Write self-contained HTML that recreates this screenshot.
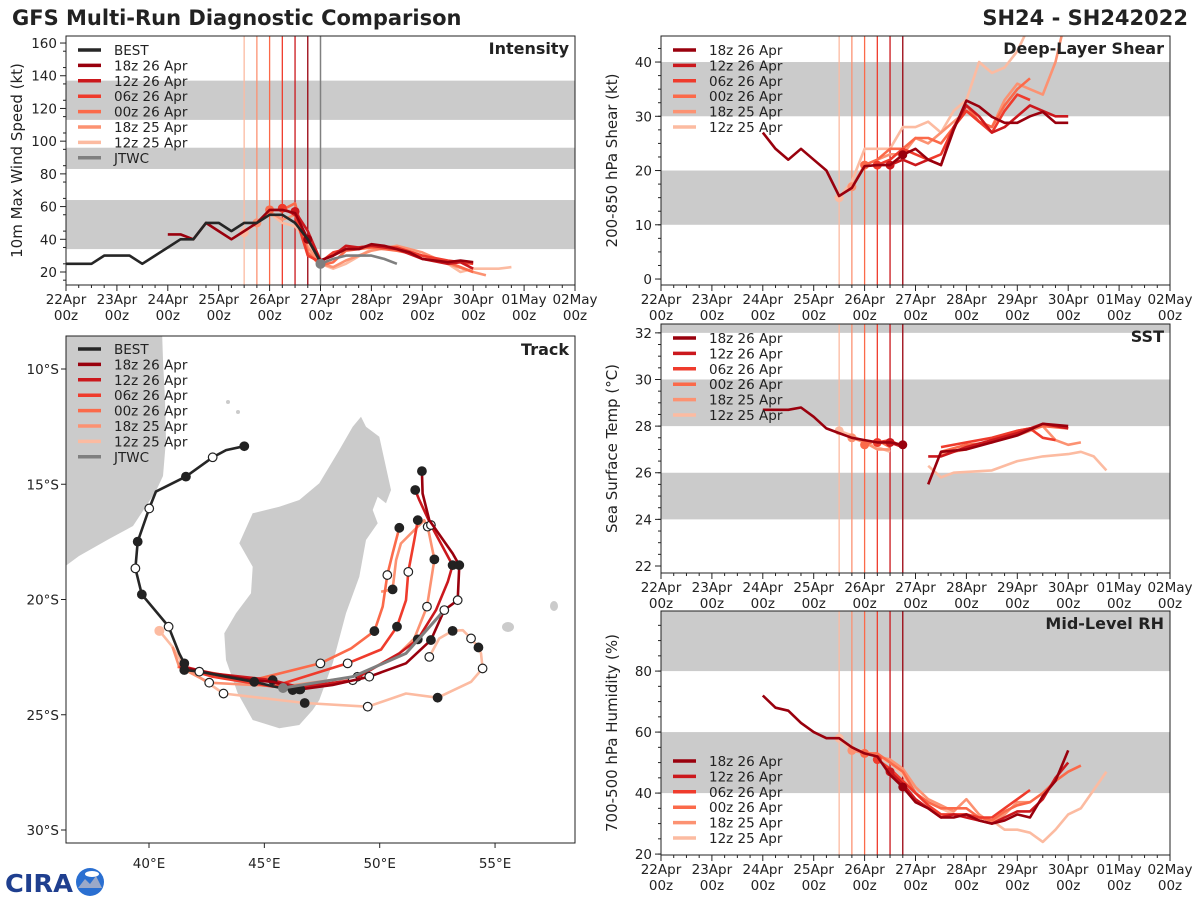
<!DOCTYPE html>
<html><head><meta charset="utf-8">
<style>
html,body{margin:0;padding:0;background:#fff;}
svg{display:block;font-family:"DejaVu Sans","Liberation Sans",sans-serif;}
</style></head>
<body>
<svg id="fig" width="1200" height="900" viewBox="0 0 1200 900" xmlns="http://www.w3.org/2000/svg">
<rect width="1200" height="900" fill="#fff"/>
<text x="12" y="25" font-size="21" font-weight="bold" fill="#222">GFS Multi-Run Diagnostic Comparison</text>
<text x="1188" y="25" font-size="21" font-weight="bold" fill="#222" text-anchor="end">SH24 - SH242022</text>
<g>
<text x="5" y="892" font-size="25" font-weight="bold" fill="#1f3f8f" textLength="68" lengthAdjust="spacingAndGlyphs">CIRA</text>
<circle cx="90" cy="882" r="14" fill="#2a6fd1"/>
<path d="M78,888 L85,879 L90,884 L96,876 L102,888 Z" fill="#9aa8c8"/>
<ellipse cx="92" cy="874" rx="7" ry="3" fill="#fff"/>
</g>
<g id="layer"></g>
</svg>
<script>
// ---------- data ----------
const runNames=['18z 26 Apr','12z 26 Apr','06z 26 Apr','00z 26 Apr','18z 25 Apr','12z 25 Apr'];
const runColors=['#99000d','#cb181d','#ef3b2c','#fb6a4a','#fc9272','#fcbba1'];
const runInit=[4.75,4.5,4.25,4.0,3.75,3.5];
const xTickLabels=['22Apr','23Apr','24Apr','25Apr','26Apr','27Apr','28Apr','29Apr','30Apr','01May','02May'];

const intBest=[[0,25],[0.5,25],[0.75,30],[1.25,30],[1.5,25],[1.75,30],[2,35],[2.25,40],[2.5,40],[2.75,50],[3,50],[3.25,45],[3.5,50],[3.75,50],[4,55],[4.25,55],[4.5,50],[4.75,40],[5,26]];
const intJtwc=[[5,25],[5.25,28],[5.5,30],[6,30],[6.25,28],[6.5,25]];
const intRun18z26=[[2,43],[2.25,43],[2.5,40],[2.75,50],[3,45],[3.25,40],[3.5,45],[3.75,50],[4,58],[4.25,58],[4.5,56],[4.75,40],[5,27],[5.25,30],[5.5,34],[5.75,34],[6,37],[6.25,36],[6.5,34],[6.75,32],[7,28],[7.25,27],[7.5,26],[7.75,27],[8,26]];
const intRun12z26=[[4.5,57],[4.75,45],[5,27],[5.25,30],[5.5,36],[5.75,35],[6,36],[6.5,34],[7,28],[7.5,25],[7.75,26],[8,22]];
const intRun06z26=[[4.25,59],[4.5,55],[4.75,30],[5,26],[5.25,32],[5.5,34],[6,36],[6.5,35],[7,30],[7.5,27],[8,25]];
const intRun00z26=[[4,58],[4.25,58],[4.5,62],[4.75,32],[5,24],[5.25,26],[5.5,33],[6,35],[6.5,33],[7,30],[7.5,26],[8,20]];
const intRun18z25=[[3.75,50],[4,57],[4.25,52],[4.5,55],[4.75,35],[5,25],[5.25,23],[5.5,27],[6,33],[6.5,36],[7,32],[7.5,25],[8,20],[8.25,18]];
const intRun12z25=[[3.5,44],[3.75,50],[4,56],[4.25,50],[4.5,48],[4.75,38],[5,25],[5.25,22],[5.5,25],[6,34],[6.5,34],[7,30],[7.5,25],[7.75,20],[8,22],[8.5,22],[8.75,23]];

const shrRun18z26=[[2,27],[2.25,24],[2.5,22],[2.75,24],[3,22],[3.25,20],[3.5,15.3],[3.75,16.8],[4,20.8],[4.25,21],[4.5,21],[4.75,22.9],[5,24],[5.25,22],[5.5,21],[5.75,27.5],[6,32.9],[6.25,31.8],[6.5,29.9],[6.75,28.8],[7,28.8],[7.25,30],[7.5,30.8],[7.75,28.8],[8,28.8]];
const shrRun12z26=[[4.5,21],[4.75,22],[5,21],[5.25,22],[5.5,21],[5.75,28],[6,32],[6.25,30],[6.5,27],[6.75,28],[7,30],[7.25,32],[7.5,31],[7.75,30],[8,30]];
const shrRun06z26=[[4.25,21],[4.5,22],[4.75,24],[5,23],[5.25,22],[5.5,23],[5.75,28],[6,31],[6.25,29],[6.5,27],[6.75,31],[7,34],[7.25,33]];
const shrRun00z26=[[4,21],[4.25,22],[4.5,24],[4.75,24],[5,26],[5.25,26],[5.5,25],[5.75,28],[6,32],[6.25,29],[6.5,28],[6.75,32],[7,35],[7.25,37]];
const shrRun18z25=[[3.75,17],[4,21],[4.25,22],[4.5,23],[4.75,23],[5,26],[5.25,25],[5.5,27],[5.75,29],[6,31],[6.25,29],[6.5,28],[6.75,33],[7,36],[7.25,35],[7.5,34],[7.75,40],[7.9,46]];
const shrRun12z25=[[3.5,15],[3.75,18],[4,24],[4.25,24],[4.5,24],[4.75,28],[5,28],[5.25,29],[5.5,27],[5.75,31],[6,33],[6.25,40],[6.5,38],[6.75,39],[7,42],[7.2,46]];

const sstRun18z26=[[2,28.7],[2.25,28.7],[2.5,28.7],[2.75,28.8],[3,28.4],[3.25,27.9],[3.5,27.7],[3.75,27.5],[4,27.4],[4.25,27.3],[4.5,27.3],[4.75,27.2],null,[5.25,25.5],[5.5,26.9],[6,27.0],[6.5,27.3],[7,27.6],[7.5,28.1],[8,28.0]];
const sstRun12z26=[[4.5,27.3],[4.75,27.1],null,[5.25,26.7],[5.5,26.7],[6,27.1],[6.5,27.4],[7,27.7],[7.5,28.1],[8,27.9]];
const sstRun06z26=[[4.25,27.3],[4.5,27.4],[4.75,27.1],null,[5.5,27.1],[6,27.3],[6.5,27.5],[7,27.8],[7.25,27.9],[7.5,27.5],[7.75,27.4]];
const sstRun00z26=[[4,27.2],[4.25,27.4],[4.5,27.1],null,[5.5,26.9],[6,27.2],[6.5,27.3],[7,27.8],[7.5,28.0],[8,27.9]];
const sstRun18z25=[[3.75,27.5],[4,27.3],[4.25,27.0],[4.5,27.0],null,[5.5,26.8],[6,27.0],[6.5,27.4],[7,27.6],[7.5,28.0],[7.75,27.4],[8,27.2],[8.25,27.3]];
const sstRun12z25=[[3.5,27.8],[3.75,27.6],[4,27.3],[4.25,27.1],[4.5,26.9],null,[5.25,26.3],[5.5,25.8],[5.75,26],[6.5,26.1],[7,26.5],[7.5,26.7],[8,26.8],[8.25,26.9],[8.5,26.7],[8.75,26.1]];

const rhRun18z26=[[2,72],[2.25,68],[2.5,67],[2.75,63],[3,60],[3.25,58],[3.5,58],[3.75,55],[4,53],[4.25,52],[4.5,46],[4.75,42],[5,37],[5.25,35],[5.5,32],[5.75,32],[6,33],[6.25,31],[6.5,30],[6.75,31],[7,33],[7.25,32],[7.5,39],[7.75,44],[8,54]];
const rhRun12z26=[[4.5,47],[4.75,43],[5,38],[5.25,35],[5.5,32],[5.75,33],[6,32],[6.25,31],[6.5,30],[6.75,32],[7,34],[7.25,34],[7.5,38],[7.75,45],[8,50]];
const rhRun06z26=[[4.25,51],[4.5,48],[4.75,44],[5,40],[5.25,36],[5.5,33],[5.75,33],[6,33],[6.25,32],[6.5,32],[6.75,35],[7,38],[7.25,41]];
const rhRun00z26=[[4,53],[4.25,53],[4.5,50],[4.75,47],[5,40],[5.25,37],[5.5,35],[5.75,35],[6,35],[6.25,32],[6.5,31],[6.75,34],[7,36],[7.25,37],[7.5,40],[7.75,44],[8,47],[8.25,49]];
const rhRun18z25=[[3.75,54],[4,53],[4.25,52],[4.5,51],[4.75,48],[5,42],[5.25,38],[5.5,36],[5.75,34],[6,38],[6.25,33],[6.5,30],[6.75,33],[7,37],[7.25,37]];
const rhRun12z25=[[3.5,58],[3.75,54],[4,54],[4.25,52],[4.5,50],[4.75,46],[5,40],[5.25,37],[5.5,35],[5.75,33],[6,33],[6.25,32],[6.5,31],[6.75,28],[7,28],[7.25,27],[7.5,24],[7.75,28],[8,33],[8.25,35],[8.5,41],[8.75,47]];

// track: [lon, lat(S), marker 0 none / 1 filled / 2 open]
const trkBest=[[44.13,13.35,1],[43.34,13.52,0],[42.76,13.83,2],[41.60,14.67,1],[40.30,15.32,0],[40.01,16.05,2],[39.51,17.49,1],[39.41,18.65,2],[39.69,19.78,1],[40.74,21.04,0],[40.85,21.18,2],[41.31,22.34,0],[41.53,22.77,1],[41.53,23.06,1],[42.18,23.13,2],[43.34,23.35,0],[44.56,23.57,1],[45.43,23.78,0],[46.23,23.93,1],[46.56,23.90,1]];
const trkJtwc=[[45.81,23.84,0],[48.83,23.35,0],[51.14,22.34,0],[52.80,20.46,2]];
const trk18z26=[[41.45,22.95,0],[42.76,23.21,0],[44.49,23.50,0],[45.36,23.57,0],[46.52,23.90,1],[47.96,23.71,0],[49.55,23.35,2],[51.14,22.77,0],[52.22,21.76,1],[52.80,20.46,0],[53.38,20.03,2],[53.45,18.51,1],[53.16,18.00,0],[52.15,16.56,0],[51.86,15.40,0],[51.83,14.43,1]];
const trk12z26=[[41.53,22.92,0],[42.76,23.21,0],[45.36,23.50,1],[46.52,23.81,0],[48.83,23.50,2],[50.85,22.34,0],[51.65,21.73,1],[52.44,20.46,0],[52.95,19.23,0],[53.16,18.51,1],[52.22,16.77,2],[51.72,15.69,0],[51.54,15.25,1]];
const trk06z26=[[41.31,22.92,0],[42.76,23.35,0],[45.36,23.78,0],[48.61,22.77,2],[50.06,22.17,0],[50.75,21.18,1],[51.14,20.03,0],[51.24,18.80,2],[51.50,17.42,0],[51.65,16.56,1]];
const trk00z26=[[41.24,22.92,0],[44.49,23.50,0],[47.43,22.77,2],[48.76,22.12,0],[49.77,21.37,1],[50.13,20.31,0],[50.33,18.94,2],[50.56,18.00,0],[50.85,16.89,1]];
const trk18z25=[[41.02,22.05,0],[41.31,22.92,0],[42.61,23.61,2],[45.79,23.78,0],[49.04,23.35,2],[50.85,22.34,0],[51.50,21.69,0],[52.05,20.31,2],[52.37,18.26,1],[52.08,16.84,2],[51.93,16.56,0],[50.92,17.57,0],[50.71,18.29,0],[50.56,19.56,1],[50.06,19.66,0]];
const trk12z25=[[40.45,21.36,0],[41.02,22.05,0],[41.53,22.92,0],[43.23,24.08,2],[46.75,24.49,1],[49.48,24.65,2],[51.14,24.08,0],[52.51,24.26,1],[53.96,23.57,0],[54.46,22.99,2],[54.39,22.34,0],[54.28,22.08,1],[53.96,21.69,2],[53.60,21.33,0],[53.16,21.36,1],[52.58,21.69,0],[52.15,22.49,2]];

// ---------- drawing ----------
const NS='http://www.w3.org/2000/svg';
const layer=document.getElementById('layer');
function el(tag,attrs,parent){const e=document.createElementNS(NS,tag);for(const k in attrs)e.setAttribute(k,attrs[k]);(parent||layer).appendChild(e);return e;}
function txt(s,attrs,parent){const e=el('text',attrs,parent);e.textContent=s;return e;}

function timePanel(cfg){
  const g=el('g',{});
  
  
  const X=d=>cfg.x0+(cfg.x1-cfg.x0)*d/10;
  const Y=v=>cfg.y1-(cfg.y1-cfg.y0)*(v-cfg.ymin)/(cfg.ymax-cfg.ymin);
  const clip='clip-'+cfg.name;
  const cp=el('clipPath',{id:clip},g);el('rect',{x:cfg.x0,y:cfg.y0,width:cfg.x1-cfg.x0,height:cfg.y1-cfg.y0},cp);
  const inner=el('g',{'clip-path':'url(#'+clip+')'},g);
  cfg.bands.forEach(b=>{const r=el('rect',{x:cfg.x0,y:Y(b[1]),width:cfg.x1-cfg.x0,height:Y(b[0])-Y(b[1]),fill:'#cbcbcb'},inner);
    });
  runInit.forEach((d,i)=>{const l=el('line',{x1:X(d),x2:X(d),y1:cfg.y0,y2:cfg.y1,stroke:runColors[i],'stroke-width':1.3},inner);
    });
  if(cfg.gray){const l=el('line',{x1:X(cfg.gray),x2:X(cfg.gray),y1:cfg.y0,y2:cfg.y1,stroke:'#808080','stroke-width':1.5},inner);
    }
  function series(data,color,nm,init){
    let d='',pen=false;
    data.forEach(p=>{if(!p){pen=false;return;}d+=(pen?'L':'M')+X(p[0]).toFixed(1)+','+Y(p[1]).toFixed(1);pen=true;});
    const path=el('path',{d:d,fill:'none',stroke:color,'stroke-width':2.6,'stroke-linejoin':'round'},inner);
    
    if(init!==undefined){const p=data.find(q=>q&&q[0]===init);if(p){const c=el('circle',{cx:X(p[0]),cy:Y(p[1]),r:4.5,fill:color},inner);
      }}
  }
  cfg.series.slice().reverse().forEach((s,ri)=>{const i=cfg.series.length-1-ri;series(s,runColors[i],'series-'+runNames[i].replace(/ /g,'-').toLowerCase(),runInit[i]);});
  if(cfg.best) series(cfg.best,'#262626','series-best');
  if(cfg.jtwc){series(cfg.jtwc,'#7f7f7f','series-jtwc');const c=el('circle',{cx:X(cfg.jtwc[0][0]),cy:Y(cfg.jtwc[0][1]),r:5,fill:'#7f7f7f'},inner);
    }
  el('rect',{x:cfg.x0,y:cfg.y0,width:cfg.x1-cfg.x0,height:cfg.y1-cfg.y0,fill:'none',stroke:'#222','stroke-width':1},g);
  for(let k=0;k<=40;k++){const x=X(k/4);const major=k%4===0;
    el('line',{x1:x,x2:x,y1:cfg.y1,y2:cfg.y1+(major?6:3),stroke:'#222','stroke-width':1},g);
    if(major){const lb=txt(xTickLabels[k/4],{x:x,y:cfg.y1+19,'font-size':13.5,'text-anchor':'middle',fill:'#222'},g);
      
      txt('00z',{x:x,y:cfg.y1+35,'font-size':13.5,'text-anchor':'middle',fill:'#222'},g);}}
  for(let v=cfg.ymin0;v<=cfg.ymax;v+=cfg.minor){const y=Y(v);el('line',{x1:cfg.x0-3,x2:cfg.x0,y1:y,y2:y,stroke:'#222'},g);}
  for(let v=cfg.tick0;v<=cfg.ymax+0.01;v+=cfg.tickStep){const y=Y(v);el('line',{x1:cfg.x0-6,x2:cfg.x0,y1:y,y2:y,stroke:'#222'},g);
    const lb=txt(String(v),{x:cfg.x0-9,y:y+5,'font-size':13.5,'text-anchor':'end',fill:'#222'},g);
    }
  const cy=(cfg.y0+cfg.y1)/2;
  const yl=txt(cfg.ylabel,{x:0,y:0,'font-size':15,'text-anchor':'middle',fill:'#222',transform:'translate('+(cfg.x0-44)+','+cy+') rotate(-90)'},g);
  
  const tt=txt(cfg.title,{x:cfg.x1-6,y:cfg.y0+18,'font-size':16,'font-weight':'bold','text-anchor':'end',fill:'#222'},g);
  
  legend(g,cfg.x0,cfg.y0,cfg.legend);
}
function legend(g,x0,y0,entries){
  const lg=el('g',{},g);
  
  entries.forEach((e,i)=>{const y=y0+14+i*15.4;
    el('line',{x1:x0+12,x2:x0+35,y1:y,y2:y,stroke:e[1],'stroke-width':3.5},lg);
    const t=txt(e[0],{x:x0+48,y:y+5,'font-size':13.5,fill:'#222'},lg);
    });
}
const runLegend=runNames.map((n,i)=>[n,runColors[i]]);
const fullLegend=[['BEST','#262626']].concat(runLegend,[['JTWC','#7f7f7f']]);

timePanel({name:'intensity-panel',x0:66,x1:575,y0:36,y1:285,ymin:12.05,ymax:164.3,ymin0:15,minor:10,tick0:20,tickStep:20,
  bands:[[34,64],[83,96],[113,137]],series:[intRun18z26,intRun12z26,intRun06z26,intRun00z26,intRun18z25,intRun12z25],
  best:intBest,jtwc:intJtwc,gray:5,ylabel:'10m Max Wind Speed (kt)',title:'Intensity',legend:fullLegend});
timePanel({name:'shear-panel',x0:661,x1:1170,y0:36,y1:285,ymin:-1.1,ymax:44.8,ymin0:0,minor:2.5,tick0:0,tickStep:10,
  bands:[[10,20],[30,40]],series:[shrRun18z26,shrRun12z26,shrRun06z26,shrRun00z26,shrRun18z25,shrRun12z25],
  ylabel:'200-850 hPa Shear (kt)',title:'Deep-Layer Shear',legend:runLegend});
timePanel({name:'sst-panel',x0:661,x1:1170,y0:324,y1:573,ymin:21.7,ymax:32.38,ymin0:22,minor:0.5,tick0:22,tickStep:2,
  bands:[[24,26],[28,30],[32,33]],series:[sstRun18z26,sstRun12z26,sstRun06z26,sstRun00z26,sstRun18z25,sstRun12z25],
  ylabel:'Sea Surface Temp (°C)',title:'SST',legend:runLegend});
timePanel({name:'rh-panel',x0:661,x1:1170,y0:611,y1:855,ymin:19.7,ymax:99.7,ymin0:20,minor:5,tick0:20,tickStep:20,
  bands:[[40,60],[80,100]],series:[rhRun18z26,rhRun12z26,rhRun06z26,rhRun00z26,rhRun18z25,rhRun12z25],
  ylabel:'700-500 hPa Humidity (%)',title:'Mid-Level RH',legend:[]});
(function(){const g=el('g',{});legend(g,661,747,runLegend);})();

// ---------- track map ----------
(function(){
  const x0=66,x1=575,y0=336,y1=843;
  const LX=lon=>149+(lon-40)*23.07;
  const LY=lat=>369+(lat-10)*23.05;
  const g=el('g',{});
  
  const cp=el('clipPath',{id:'clip-track'},g);el('rect',{x:x0,y:y0,width:x1-x0,height:y1-y0},cp);
  const inner=el('g',{'clip-path':'url(#clip-track)'},g);
  const af=el('path',{d:'M60,330 L162,330 L163,360 L165,400 L166,440 L163,476 L156,491 L133,526 L109,539 L79,556 L60,570 Z',fill:'#cbcbcb'},inner);
  
  const mz=[[885,50],[900,80],[940,110],[975,270],[960,310],[935,290],[920,330],[935,370],[900,420],[880,530],[840,640],[800,790],[760,900],[740,930],[700,975],[640,985],[560,960],[515,880],[480,780],[475,700],[510,640],[555,580],[560,500],[520,430],[560,340],[640,320],[700,300],[760,250],[820,150],[860,80]];
  const md=el('path',{d:'M'+mz.map(p=>(66+p[0]/3).toFixed(1)+','+(400+p[1]/3).toFixed(1)).join('L')+'Z',fill:'#cbcbcb'},inner);
  
  el('ellipse',{cx:554,cy:606,rx:4,ry:5,fill:'#cbcbcb'},inner);
  el('ellipse',{cx:508,cy:627,rx:6,ry:5,fill:'#cbcbcb'},inner);
  el('circle',{cx:228,cy:402,r:2,fill:'#cbcbcb'},inner);
  el('circle',{cx:238,cy:412,r:2,fill:'#cbcbcb'},inner);
  function track(data,color,nm,w){
    const p=el('path',{d:'M'+data.map(q=>LX(q[0]).toFixed(1)+','+LY(q[1]).toFixed(1)).join('L'),fill:'none',stroke:color,'stroke-width':w||2.6,'stroke-linejoin':'round'},inner);
    
    data.forEach(q=>{if(q[2]){const c=el('circle',{cx:LX(q[0]),cy:LY(q[1]),r:4.3,fill:q[2]===1?'#222':'#fff',stroke:'#222','stroke-width':1.2},inner);
      }});
  }
  const trks=[trk18z26,trk12z26,trk06z26,trk00z26,trk18z25,trk12z25];
  for(let i=trks.length-1;i>=0;i--) track(trks[i],runColors[i],'track-'+runNames[i].replace(/ /g,'-').toLowerCase());
  const st=el('circle',{cx:LX(trk12z25[0][0]),cy:LY(trk12z25[0][1]),r:5,fill:runColors[5]},inner);
  
  track(trkBest,'#262626','track-best');
  track(trkJtwc,'#7f7f7f','track-jtwc',3);
  const jd=el('circle',{cx:LX(trkJtwc[0][0]),cy:LY(trkJtwc[0][1]),r:5,fill:'#7f7f7f'},inner);
  
  el('rect',{x:x0,y:y0,width:x1-x0,height:y1-y0,fill:'none',stroke:'#222'},g);
  [10,15,20,25,30].forEach(lat=>{const y=LY(lat);el('line',{x1:x0-5,x2:x0,y1:y,y2:y,stroke:'#222'},g);
    const t=txt(lat+'°S',{x:x0-7,y:y+5,'font-size':13.5,'text-anchor':'end',fill:'#222'},g);
    });
  [40,45,50,55].forEach(lon=>{const x=LX(lon);el('line',{x1:x,x2:x,y1:y1,y2:y1+5,stroke:'#222'},g);
    const t=txt(lon+'°E',{x:x,y:y1+25,'font-size':13.5,'text-anchor':'middle',fill:'#222'},g);
    });
  const tt=txt('Track',{x:x1-6,y:y0+19,'font-size':16,'font-weight':'bold','text-anchor':'end',fill:'#222'},g);
  
  legend(g,x0,y0-1,fullLegend);
})();
</script>
</body></html>
